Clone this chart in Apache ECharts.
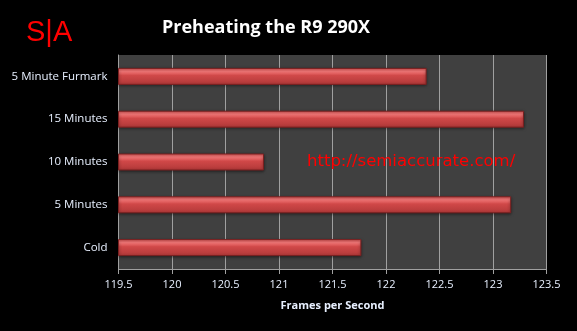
<!DOCTYPE html>
<html><head><meta charset="utf-8">
<script src="https://cdn.jsdelivr.net/npm/echarts@6/dist/echarts.min.js"></script>
<style>html,body{margin:0;padding:0;background:#000;}#c{width:577px;height:331px;}</style>
</head><body><div id="c"></div>
<script>
const categories = ['Cold', '5 Minutes', '10 Minutes', '15 Minutes', '5 Minute Furmark'];
const fps = [121.77, 123.17, 120.86, 123.29, 122.38];
const xTicks = [119.5, 120, 120.5, 121, 121.5, 122, 122.5, 123, 123.5];

const chart = echarts.init(document.getElementById('c'), null, {renderer: 'canvas'});
chart.setOption({
  backgroundColor: '#000',
  animation: false,
  title: [{
    text: 'Preheating the R9 290X', left: 261, top: 14, textAlign: 'center',
    textStyle: {color: '#fff', fontSize: 18, fontWeight: 'bold', fontFamily: 'Open Sans'}
  }],
  graphic: [
    {type: 'text', left: 26, top: 18, style: {text: 'S|A', fill: '#ff0000', font: '29px "Liberation Sans"'}},
    {type: 'text', left: 307, top: 153, z: 100, style: {text: 'http://semiaccurate.com/', fill: '#ff0000', font: '16.5px "DejaVu Sans"'}}
  ],
  grid: {left: 118.5, right: 30.5, top: 55, bottom: 62, backgroundColor: '#404040', show: true, borderWidth: 0},
  xAxis: {
    type: 'value', min: 119.5, max: 123.5, interval: 0.5,
    name: 'Frames per Second', nameLocation: 'middle', nameGap: 31,
    nameTextStyle: {color: '#e8f0ff', fontSize: 11, fontWeight: 'bold', fontFamily: 'Open Sans'},
    axisLine: {show: true, lineStyle: {color: '#a0a0a0'}},
    axisTick: {show: true, length: 5, lineStyle: {color: '#a0a0a0'}},
    splitLine: {show: true, lineStyle: {color: '#a0a0a0'}},
    axisLabel: {color: '#e8f0ff', fontSize: 11, fontFamily: 'Open Sans', margin: 10,
      formatter: v => xTicks.includes(v) ? String(v) : ''}
  },
  yAxis: {
    type: 'category', data: categories,
    axisLine: {show: true, lineStyle: {color: '#a0a0a0'}},
    axisTick: {show: false},
    axisLabel: {color: '#e8f0ff', fontSize: 11.5, fontFamily: 'Open Sans', margin: 11}
  },
  series: [{
    type: 'bar', data: fps, barWidth: 17,
    itemStyle: {
      color: {type: 'linear', x: 0, y: 0, x2: 0, y2: 1, colorStops: [
        {offset: 0, color: '#e85a5a'}, {offset: 0.2, color: '#f47878'}, {offset: 0.45, color: '#d04848'},
        {offset: 1, color: '#b03838'}]},
      borderColor: '#7a2020', borderWidth: 1,
      shadowColor: 'rgba(0,0,0,0.5)', shadowBlur: 3, shadowOffsetY: 1
    }
  }]
});
</script></body></html>
